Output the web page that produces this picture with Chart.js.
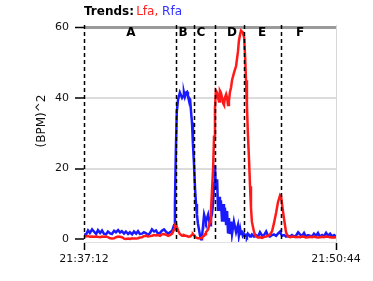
<!DOCTYPE html>
<html>
<head>
<meta charset="utf-8">
<script src="https://cdn.jsdelivr.net/npm/chart.js@4"></script>
<style>
    html, body { margin: 0; padding: 0; background: #fff; }
    #trend { display: block; }
</style>
</head>
<body>
<canvas id="trend" width="373" height="281"></canvas>
<script>
// Seconds since 21:37:12, shared by both traces
const times = [
    0, 6, 13, 19, 26, 32, 39, 45, 52, 58, 64, 71, 77, 84, 90, 97, 103, 110, 116, 122,
    129, 135, 142, 148, 155, 161, 168, 174, 180, 187, 193, 200, 206, 213, 219, 226, 232, 238, 245, 251,
    258, 264, 271, 277, 284, 290, 293, 296, 299, 303, 309, 316, 319, 322, 325, 329, 332, 335, 342, 345,
    348, 351, 354, 358, 361, 364, 367, 374, 377, 380, 387, 390, 393, 400, 406, 409, 412, 416, 419, 422,
    425, 429, 432, 435, 438, 441, 445, 448, 451, 454, 458, 461, 464, 467, 470, 474, 477, 483, 490, 496,
    499, 503, 506, 509, 512, 516, 519, 522, 525, 528, 532, 535, 538, 541, 548, 554, 561, 567, 574, 580,
    587, 593, 599, 606, 612, 619, 625, 632, 635, 638, 645, 651, 657, 664, 670, 677, 683, 690, 696, 702,
    709, 715, 722, 728, 735, 741, 748, 754, 760, 767, 773, 780, 786, 793, 799, 806, 812
];

// Lfa, (BPM)^2
const lfaValues = [
    1.0, 0.8, 0.9, 0.7, 0.8, 0.7, 0.8, 0.7, 0.6, 0.8, 0.7, 0.8, 0.6, 0.3, 0.2, 0.3, 0.6, 0.8, 0.7, 0.6,
    0.2, 0.1, 0.2, 0.1, 0.3, 0.2, 0.2, 0.3, 0.5, 0.6, 0.9, 1.0, 0.8, 0.9, 1.0, 1.2, 1.1, 1.2, 1.0, 1.4,
    1.5, 1.3, 1.0, 1.2, 1.6, 2.8, 4.0, 4.5, 3.5, 2.5, 1.5, 1.0, 1.0, 1.2, 1.1, 1.0, 0.9, 0.8, 0.8, 1.0,
    1.3, 1.5, 1.2, 0.8, 0.5, 0.4, 0.3, 0.3, 0.4, 0.6, 1.0, 1.4, 2.0, 2.8, 5.0, 8.0, 13, 20, 29, 37,
    42, 41.5, 40, 39, 42, 41.5, 40, 38.5, 38, 40, 41, 40, 38, 39, 41.5, 43, 45, 47, 49, 53,
    56, 58, 59, 59, 58.5, 57, 52, 45, 38, 30, 22, 15, 9, 5, 2, 0.8, 0.5, 0.6, 0.4, 0.7,
    0.8, 1.0, 1.3, 2.3, 4.5, 7.5, 10.5, 12.5, 12.2, 10, 5.5, 2, 0.8, 0.6, 0.8, 0.7, 0.6, 0.7, 0.6, 0.8,
    0.7, 0.5, 0.6, 0.7, 0.6, 0.8, 0.6, 0.5, 0.6, 0.7, 0.6, 0.8, 0.7, 0.6, 0.5, 0.6, 0.5
];

// Rfa, (BPM)^2
const rfaValues = [
    1.5, 1.2, 2.5, 1.8, 2.8, 2.2, 1.5, 2.6, 1.8, 2.5, 1.6, 1.4, 2.2, 1.7, 1.5, 2.4, 2.0, 2.6, 1.9, 2.3,
    1.6, 2.2, 1.5, 2.0, 1.4, 2.2, 1.6, 2.3, 1.5, 1.6, 2.0, 1.7, 1.2, 1.8, 2.8, 2.2, 2.5, 1.6, 1.8, 2.4,
    2.8, 2.2, 1.6, 2.0, 2.4, 4.0, 10, 25, 36, 39.5, 41.5, 40.0, 40.5, 41.5, 40.3, 41.5, 41.7, 40.5, 39.5, 36,
    33, 27, 22, 14, 10, 7, 4.5, 1.0, 0.0, 0.5, 7.0, 6.0, 5.0, 7.0, 4.0, 6.0, 7.0, 10, 16, 21,
    14, 17, 8, 12, 8, 11, 5, 10, 5, 9, 4, 8, 2, 6, 1.5, 5, 1.5, 5, 2, 4,
    1, 3, 1.5, 2.5, 1, 1.5, 1.0, 1.2, 0.8, 1.6, 1.2, 0.8, 1.0, 1.4, 0.8, 1.2, 0.8, 2.0, 1.0, 1.2,
    2.2, 1.0, 0.8, 1.2, 1.4, 1.0, 1.6, 2.2, 1.5, 1.0, 1.2, 0.8, 1.0, 0.8, 1.2, 0.8, 1.0, 2.0, 1.4, 0.9,
    1.8, 0.8, 1.2, 1.0, 0.8, 1.6, 1.0, 1.8, 0.8, 1.2, 0.8, 1.8, 1.0, 1.6, 0.8, 1.2, 0.8
];

// Phase markers (seconds) and the letters between them
const phaseLines   = [0, 296, 354, 422, 516, 635];
const phaseLabels  = ['A', 'B', 'C', 'D', 'E', 'F'];
const phaseLabelAt = [151, 319, 377, 477, 574, 696];

const yTicks   = [0, 20, 40, 60];
const xTicks   = [0, 812];
const startSec = 21 * 3600 + 37 * 60 + 12;

const fmtClock = (s) => {
    const t = startSec + s;
    const pad = n => String(n).padStart(2, '0');
    return `${pad(Math.floor(t / 3600))}:${pad(Math.floor(t / 60) % 60)}:${pad(t % 60)}`;
};

const toPoints = (vals) => vals.map((v, i) => ({ x: times[i], y: v }));

// Frame, phase markers and the text around the plot
const decorations = {
    id: 'decorations',
    afterDatasetsDraw(chart) {
        const { ctx, chartArea: a, scales: { x } } = chart;
        ctx.save();

        // right border
        ctx.strokeStyle = '#d8d8d8';
        ctx.lineWidth = 1;
        ctx.beginPath();
        ctx.moveTo(a.right + 0.5, a.top);
        ctx.lineTo(a.right + 0.5, a.bottom);
        ctx.stroke();

        // dashed phase lines (the first one is the left edge)
        ctx.strokeStyle = '#000';
        ctx.lineWidth = 1.5;
        ctx.setLineDash([4, 3]);
        phaseLines.forEach(s => {
            const px = Math.round(x.getPixelForValue(s)) + 0.5;
            ctx.beginPath();
            ctx.moveTo(px, a.top);
            ctx.lineTo(px, a.bottom);
            ctx.stroke();
        });
        ctx.setLineDash([]);

        // phase letters
        ctx.fillStyle = '#000';
        ctx.font = 'bold 12px "DejaVu Sans"';
        ctx.textAlign = 'center';
        ctx.textBaseline = 'middle';
        phaseLabels.forEach((lbl, i) => {
            ctx.fillText(lbl, x.getPixelForValue(phaseLabelAt[i]), 33);
        });

        // title
        ctx.textAlign = 'left';
        ctx.font = 'bold 12px "DejaVu Sans"';
        ctx.fillText('Trends:', 84, 12);
        let tx = 84 + ctx.measureText('Trends: ').width - 2;
        ctx.font = '12px "DejaVu Sans"';
        ctx.fillStyle = '#ff2020';
        ctx.fillText('Lfa,', tx, 12);
        tx += ctx.measureText('Lfa, ').width;
        ctx.fillStyle = '#3030ff';
        ctx.fillText('Rfa', tx, 12);

        // y axis title
        ctx.fillStyle = '#111';
        ctx.font = '12px "DejaVu Sans"';
        ctx.translate(42, 121);
        ctx.rotate(-Math.PI / 2);
        ctx.textAlign = 'center';
        ctx.fillText('(BPM)^2', 0, 0);

        ctx.restore();
    }
};

new Chart(document.getElementById('trend'), {
    type: 'line',
    data: {
        datasets: [
            {
                label: 'Lfa',
                data: toPoints(lfaValues),
                borderColor: '#ff1a1a',
                borderWidth: 2.5,
                pointRadius: 0,
                tension: 0
            },
            {
                label: 'Rfa',
                data: toPoints(rfaValues),
                borderColor: '#1a1aff',
                borderWidth: 2.5,
                pointRadius: 0,
                tension: 0
            }
        ]
    },
    options: {
        responsive: false,
        animation: false,
        layout: { padding: { left: 0, right: 37, top: 25, bottom: 0 } },
        plugins: {
            legend: { display: false },
            tooltip: { enabled: false }
        },
        scales: {
            x: {
                type: 'linear',
                min: 0,
                max: 812,
                afterBuildTicks: s => { s.ticks = xTicks.map(v => ({ value: v })); },
                afterFit: s => { s.height = 39; },
                grid: {
                    drawOnChartArea: false,
                    tickLength: 8,
                    tickColor: '#000',
                    tickWidth: 1.5
                },
                border: { color: '#e2e2e2', width: 1 },
                ticks: {
                    color: '#111',
                    font: { family: 'DejaVu Sans', size: 11 },
                    padding: 3,
                    maxRotation: 0,
                    autoSkip: false,
                    callback: v => fmtClock(v)
                }
            },
            y: {
                min: -0.76,
                max: 60.6,
                afterBuildTicks: s => { s.ticks = yTicks.map(v => ({ value: v })); },
                afterFit: s => { s.width = 84; },
                grid: {
                    color: c => c.tick.value === 60 ? '#9a9a9a' : (c.tick.value === 0 ? 'rgba(0,0,0,0)' : '#dcdcdc'),
                    lineWidth: c => c.tick.value === 60 ? 3 : 2,
                    tickLength: 9,
                    tickColor: '#000',
                    tickWidth: 1.5
                },
                border: { display: false },
                ticks: {
                    color: '#111',
                    font: { family: 'DejaVu Sans', size: 11 },
                    padding: 6
                }
            }
        }
    },
    plugins: [decorations]
});
</script>
</body>
</html>
